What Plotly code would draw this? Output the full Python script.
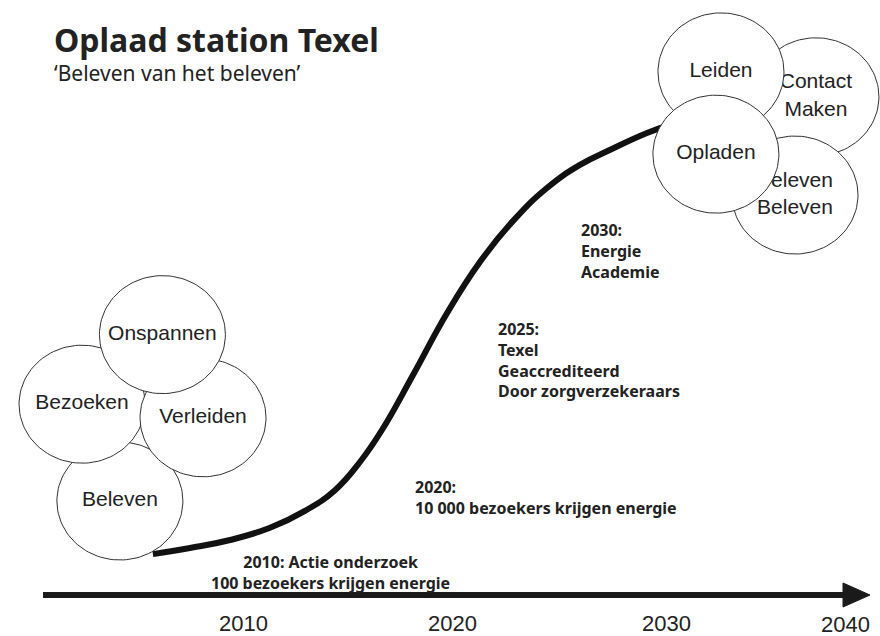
import numpy as np
import plotly.graph_objects as go

# S-curve (year, energy level)
curve_year = [2005.74, 2007.49, 2009.39, 2011.28, 2012.93, 2014.35, 2015.53, 2016.57,
              2018.04, 2019.65, 2021.21, 2022.77, 2024.37, 2025.93, 2027.49, 2029.10, 2030.28]
curve_level = [8.7, 10.0, 11.7, 14.3, 17.9, 22.3, 28.3, 35.1,
               46.8, 60.0, 70.9, 79.6, 86.6, 91.5, 95.0, 98.3, 100.2]

# circles, back to front
circle_labels = ["Beleven", "Bezoeken", "Verleiden", "Onspannen",
                 "Contact<br>Maken", "Leiden", "Beleven<br>Beleven", "Opladen"]
circle_year = [2004.18, 2002.39, 2008.11, 2006.19, 2037.09, 2032.60, 2036.10, 2032.36]
circle_level = [20.0, 40.6, 37.7, 55.4, 106.0, 111.3, 85.1, 93.8]

# milestones
milestone_text = ["2010: Actie onderzoek<br>100 bezoekers krijgen energie",
                  "2020:<br>10 000 bezoekers krijgen energie",
                  "2025:<br>Texel<br>Geaccrediteerd<br>Door zorgverzekeraars",
                  "2030:<br>Energie<br>Academie"]

tick_labels = ["2010", "2020", "2030", "2040"]

W, H = 880, 636
X0, PXX = 1998.511, 21.15      # year at left edge, pixels per year
AXIS_PY, PXY = 595, 4.7        # pixel row of level 0, pixels per level unit
X1 = X0 + W / PXX
Y0 = (AXIS_PY - H) / PXY
Y1 = AXIS_PY / PXY


def px_x(px):
    return X0 + px / PXX


def px_y(py):
    return (AXIS_PY - py) / PXY


rx = 63 / PXX
ry = 59 / PXY
t = np.linspace(0, 2 * np.pi, 121)

fig = go.Figure()

fig.add_trace(go.Scatter(
    x=curve_year, y=curve_level, mode="lines",
    line=dict(color="#111111", width=6, shape="spline", smoothing=1.3),
    hoverinfo="skip", showlegend=False))

for lab, cx, cy in zip(circle_labels, circle_year, circle_level):
    fig.add_trace(go.Scatter(
        x=cx + rx * np.cos(t), y=cy + ry * np.sin(t), mode="lines",
        fill="toself", fillcolor="white",
        line=dict(color="#333333", width=1),
        hoverinfo="skip", showlegend=False))
    fig.add_trace(go.Scatter(
        x=[cx], y=[cy], mode="text", text=[lab], textposition="middle center",
        textfont=dict(family="Liberation Sans, Arial", size=21, color="#222222"),
        hoverinfo="skip", showlegend=False))

# time axis arrow
fig.add_shape(type="line", x0=px_x(43), x1=px_x(846), y0=0, y1=0,
              line=dict(color="#1a1a1a", width=6))
fig.add_shape(type="path",
              path="M %f,%f L %f,%f L %f,%f Z" % (px_x(843), px_y(583), px_x(870), 0,
                                                 px_x(843), px_y(607)),
              fillcolor="#1a1a1a", line=dict(color="#1a1a1a", width=1))

bold = dict(family="Noto Sans", size=16, color="#222222")
ann = []
ann.append(dict(x=px_x(330), y=px_y(549), text="<b>" + milestone_text[0] + "</b>",
                xanchor="center", yanchor="top", align="center"))
ann.append(dict(x=px_x(413), y=px_y(474), text="<b>" + milestone_text[1] + "</b>",
                xanchor="left", yanchor="top", align="left"))
ann.append(dict(x=px_x(496), y=px_y(316), text="<b>" + milestone_text[2] + "</b>",
                xanchor="left", yanchor="top", align="left"))
ann.append(dict(x=px_x(579), y=px_y(217), text="<b>" + milestone_text[3] + "</b>",
                xanchor="left", yanchor="top", align="left"))
for a in ann:
    a.update(xref="x", yref="y", showarrow=False, font=bold)

tick_px = [243, 452, 666, 845]
tick_py = [623, 623, 623, 624]
for lab, tx, ty in zip(tick_labels, tick_px, tick_py):
    ann.append(dict(x=px_x(tx), y=px_y(ty), text=lab, xref="x", yref="y",
                    xanchor="center", yanchor="middle", showarrow=False,
                    font=dict(family="Liberation Sans, Arial", size=22, color="#222222")))

ann.append(dict(x=52 / W, y=1 - 40 / H, xref="paper", yref="paper",
                text="<b>Oplaad station Texel</b>", xanchor="left", yanchor="middle",
                showarrow=False, font=dict(family="Noto Sans", size=32, color="#222222")))
ann.append(dict(x=52 / W, y=1 - 73 / H, xref="paper", yref="paper",
                text="\u2018Beleven van het beleven\u2019", xanchor="left", yanchor="middle",
                showarrow=False, font=dict(family="Noto Sans", size=21, color="#222222")))

fig.update_layout(
    width=W, height=H,
    margin=dict(l=0, r=0, t=0, b=0),
    paper_bgcolor="white", plot_bgcolor="white",
    xaxis=dict(range=[X0, X1], visible=False, fixedrange=True),
    yaxis=dict(range=[Y0, Y1], visible=False, fixedrange=True),
    annotations=ann,
    showlegend=False,
)

fig.write_html("out.html", config={"displayModeBar": False},
               post_script="document.body.style.margin='0px';")
